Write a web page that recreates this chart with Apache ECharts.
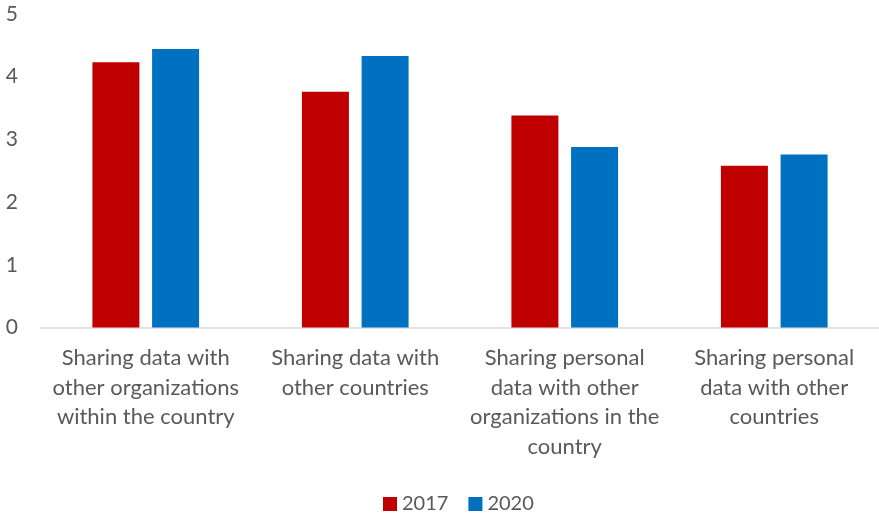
<!DOCTYPE html>
<html>
<head>
<meta charset="utf-8">
<script src="https://cdn.jsdelivr.net/npm/echarts@6/dist/echarts.min.js"></script>
<style>
  html, body { margin: 0; padding: 0; background: #fff; }
  #chart { width: 879px; height: 513px; }
</style>
</head>
<body>
<div id="chart"></div>
<script>
// Data-sharing attitude scores, 2017 vs 2020
const categories = [
  'Sharing data with\nother organizations\nwithin the country',
  'Sharing data with\nother countries',
  'Sharing personal\ndata with other\norganizations in the\ncountry',
  'Sharing personal\ndata with other\ncountries'
];
const seriesNames = ['2017', '2020'];
const values2017 = [4.23, 3.76, 3.38, 2.58];
const values2020 = [4.44, 4.33, 2.88, 2.76];
const yTicks = [0, 1, 2, 3, 4, 5];

const textColor = '#595959';
const fontFamily = 'Lato, "Open Sans", sans-serif';

const chart = echarts.init(document.getElementById('chart'));
chart.setOption({
  animation: false,
  legend: {
    data: seriesNames,
    top: 489,
    left: 378,
    itemWidth: 14,
    itemHeight: 14,
    itemGap: 20,
    icon: 'rect',
    textStyle: { color: textColor, fontSize: 20, fontFamily: fontFamily }
  },
  grid: { left: 41, top: 14, width: 841, height: 313.5 },
  xAxis: {
    type: 'category',
    data: categories,
    axisLine: { lineStyle: { color: '#D9D9D9', width: 1.5 } },
    axisTick: { show: false },
    axisLabel: {
      interval: 0,
      margin: 16,
      color: textColor,
      fontSize: 22,
      lineHeight: 29.5,
      fontFamily: fontFamily,
      align: 'center'
    }
  },
  yAxis: {
    type: 'value',
    min: yTicks[0],
    max: yTicks[yTicks.length - 1],
    interval: 1,
    splitLine: { show: false },
    axisLine: { show: false },
    axisTick: { show: false },
    axisLabel: { color: textColor, fontSize: 21, fontFamily: fontFamily, margin: 23 }
  },
  series: [
    {
      name: seriesNames[0],
      type: 'bar',
      data: values2017,
      barWidth: 47,
      barGap: '27%',
      itemStyle: { color: '#C00000' }
    },
    {
      name: seriesNames[1],
      type: 'bar',
      data: values2020,
      barWidth: 47,
      barGap: '27%',
      itemStyle: { color: '#0070C0' }
    }
  ]
});
</script>
</body>
</html>
